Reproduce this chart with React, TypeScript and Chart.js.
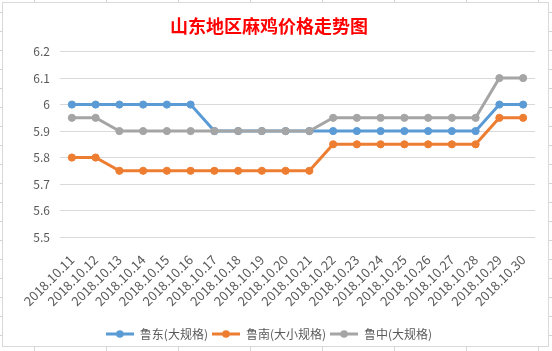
import React, { useEffect, useRef } from "react";
import { Chart, registerables } from "chart.js";

Chart.register(...registerables);

const chartTitle = "山东地区麻鸡价格走势图";
const categories = [
  "2018.10.11", "2018.10.12", "2018.10.13", "2018.10.14", "2018.10.15",
  "2018.10.16", "2018.10.17", "2018.10.18", "2018.10.19", "2018.10.20",
  "2018.10.21", "2018.10.22", "2018.10.23", "2018.10.24", "2018.10.25",
  "2018.10.26", "2018.10.27", "2018.10.28", "2018.10.29", "2018.10.30",
];
const seriesNames = ["鲁东(大规格)", "鲁南(大小规格)", "鲁中(大规格)"];
const ludong = [6, 6, 6, 6, 6, 6, 5.9, 5.9, 5.9, 5.9, 5.9, 5.9, 5.9, 5.9, 5.9, 5.9, 5.9, 5.9, 6, 6];
const lunan = [5.8, 5.8, 5.75, 5.75, 5.75, 5.75, 5.75, 5.75, 5.75, 5.75, 5.75, 5.85, 5.85, 5.85, 5.85, 5.85, 5.85, 5.85, 5.95, 5.95];
const luzhong = [5.95, 5.95, 5.9, 5.9, 5.9, 5.9, 5.9, 5.9, 5.9, 5.9, 5.9, 5.95, 5.95, 5.95, 5.95, 5.95, 5.95, 5.95, 6.1, 6.1];
const yMin = 5.5;
const yMax = 6.2;
const yStep = 0.1;

const colors = ["#5B9BD5", "#ED7D31", "#A5A5A5"];
const FONT = '"Noto Sans CJK SC", "Noto Sans", sans-serif';

function makeMarker(color: string): HTMLCanvasElement {
  const c = document.createElement("canvas");
  c.width = 28;
  c.height = 10;
  const ctx = c.getContext("2d")!;
  ctx.strokeStyle = color;
  ctx.lineWidth = 3;
  ctx.beginPath();
  ctx.moveTo(0, 5);
  ctx.lineTo(28, 5);
  ctx.stroke();
  ctx.fillStyle = color;
  ctx.beginPath();
  ctx.arc(14, 5, 3.8, 0, Math.PI * 2);
  ctx.fill();
  return c;
}

export default function App() {
  const ref = useRef<HTMLCanvasElement>(null);

  useEffect(() => {
    if (!ref.current) return;
    const markers = colors.map(makeMarker);
    const data = [ludong, lunan, luzhong];
    const chart = new Chart(ref.current, {
      type: "line",
      data: {
        labels: categories,
        datasets: data.map((d, i) => ({
          label: seriesNames[i],
          data: d,
          borderColor: colors[i],
          backgroundColor: colors[i],
          pointBackgroundColor: colors[i],
          pointBorderColor: colors[i],
          pointRadius: 3.6,
          pointBorderWidth: 1,
          borderWidth: 3,
          tension: 0,
          order: 3 - i,
        })),
      },
      options: {
        responsive: false,
        animation: false,
        layout: { padding: { left: 0, right: 13, top: 0, bottom: 0 } },
        plugins: {
          tooltip: { enabled: false },
          title: {
            display: true,
            text: chartTitle,
            color: "#FF0000",
            font: { family: FONT, size: 18, weight: "bold", lineHeight: 1.2 },
            padding: { top: 12, bottom: 15 },
          },
          legend: {
            position: "bottom",
            labels: {
              usePointStyle: true,
              pointStyleWidth: 28,
              padding: 4,
              color: "#595959",
              font: { family: FONT, size: 12 },
              generateLabels: (ch: any) =>
                ch.data.datasets.map((ds: any, i: number) => ({
                  text: ds.label,
                  fillStyle: colors[i],
                  strokeStyle: colors[i],
                  lineWidth: 0,
                  pointStyle: markers[i],
                  hidden: false,
                  datasetIndex: i,
                  fontColor: "#595959",
                })),
            },
          },
        },
        scales: {
          x: {
            offset: true,
            grid: { display: false, offset: true },
            border: { display: false },
            afterFit: (s: any) => {
              s.height = 87;
            },
            ticks: {
              autoSkip: false,
              minRotation: 45,
              maxRotation: 45,
              padding: 7,
              color: "#595959",
              font: { family: FONT, size: 13 },
            },
          },
          y: {
            min: yMin,
            max: yMax,
            afterFit: (s: any) => {
              s.width = 57;
            },
            grid: { color: "#D9D9D9", lineWidth: 1, drawTicks: false },
            border: { display: false },
            ticks: {
              stepSize: yStep,
              padding: 10,
              color: "#595959",
              font: { family: FONT, size: 12 },
              callback: (v: any) => String(Number(Number(v).toFixed(2))),
            },
          },
        },
      },
    });
    return () => chart.destroy();
  }, []);

  const gridColor = "#D4D4D4";
  return (
    <div
      style={{
        position: "absolute",
        left: 0,
        top: 0,
        width: 552,
        height: 351,
        overflow: "hidden",
        backgroundColor: "#FFFFFF",
        backgroundImage:
          `repeating-linear-gradient(to right, transparent 0px, transparent 34px, ${gridColor} 34px, ${gridColor} 35px, transparent 35px, transparent 72px),` +
          `repeating-linear-gradient(to bottom, transparent 0px, transparent 12px, ${gridColor} 12px, ${gridColor} 13px, transparent 13px, transparent 19px)`,
      }}
    >
      <div
        style={{
          position: "absolute",
          left: 2,
          top: 2,
          width: 547,
          height: 345,
          boxSizing: "border-box",
          border: "1px solid #D9D9D9",
          background: "#FFFFFF",
        }}
      >
        <canvas
          ref={ref}
          width={545}
          height={347}
          style={{ display: "block", position: "absolute", left: 0, top: 0, width: 545, height: 347 }}
        />
      </div>
    </div>
  );
}
